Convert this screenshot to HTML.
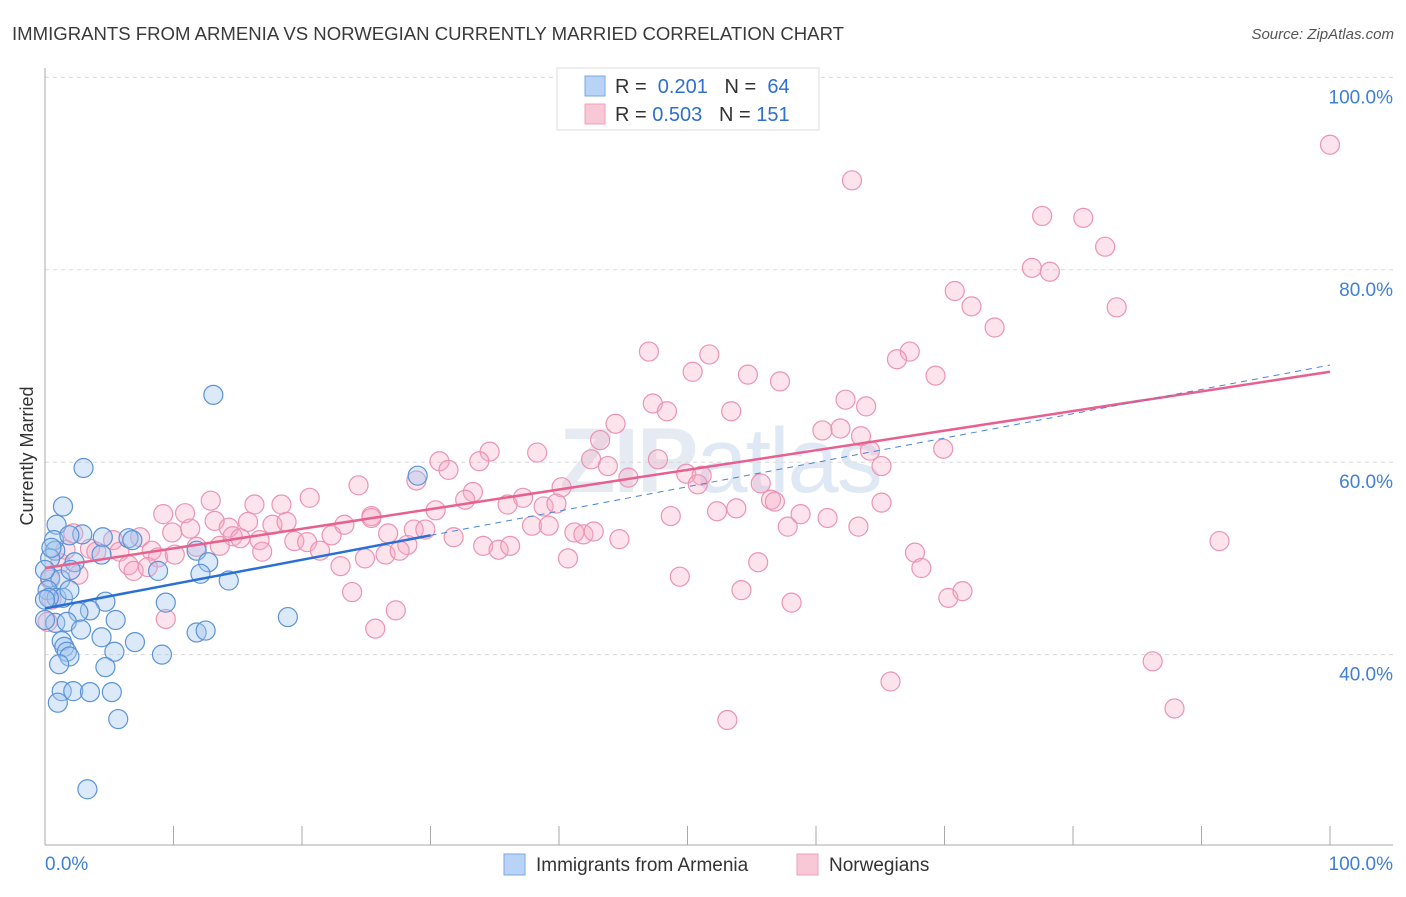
<!DOCTYPE html>
<html><head><meta charset="utf-8"><style>
body{margin:0;background:#fff;font-family:"Liberation Sans",sans-serif}
</style></head><body>
<svg width="1406" height="892" viewBox="0 0 1406 892" xmlns="http://www.w3.org/2000/svg" id="chart">
<text x="12" y="40" font-size="18" fill="#3a3a3a" font-family="Liberation Sans, sans-serif" textLength="832" lengthAdjust="spacingAndGlyphs">IMMIGRANTS FROM ARMENIA VS NORWEGIAN CURRENTLY MARRIED CORRELATION CHART</text>
<text x="1394" y="39" font-size="15" fill="#555" font-style="italic" text-anchor="end">Source: ZipAtlas.com</text>
<text x="720" y="492" font-size="92" fill="#e6eaf2" text-anchor="middle" font-weight="bold" letter-spacing="-2">ZIP<tspan fill="#dfe8f5" font-weight="normal">atlas</tspan></text>
<g id="grid"></g>
<g id="axes"></g>
<g id="marks"></g>
<text transform="translate(33,456) rotate(-90)" font-size="18" fill="#333" text-anchor="middle">Currently Married</text>
<g>
<rect x="557" y="68" width="262" height="62" fill="#fff" stroke="#ddd"/>
<rect x="585" y="76" width="20" height="20" fill="#b8d3f5" stroke="#7aa7e3"/>
<rect x="585" y="104" width="20" height="20" fill="#f9c8d7" stroke="#eea0ba"/>
<text x="615" y="93" font-size="20" fill="#333">R = <tspan fill="#2f6fcf">&#160;0.201</tspan>&#160;&#160;&#160;N = <tspan fill="#2f6fcf">&#160;64</tspan></text>
<text x="615" y="121" font-size="20" fill="#333">R = <tspan fill="#2f6fcf">0.503</tspan>&#160;&#160;&#160;N = <tspan fill="#2f6fcf">151</tspan></text>
</g>
<g>
<rect x="504" y="854" width="21" height="21" fill="#b8d3f5" stroke="#7aa7e3"/>
<text x="536" y="871" font-size="19" fill="#333">Immigrants from Armenia</text>
<rect x="797" y="854" width="21" height="21" fill="#f9c8d7" stroke="#eea0ba"/>
<text x="829" y="871" font-size="19" fill="#333">Norwegians</text>
</g>
</svg>
<script>
const xTicks=[0,10,20,30,40,50,60,70,80,90,100];
const yTicks=[40,60,80,100];
const yTickLabels=["40.0%","60.0%","80.0%","100.0%"];
const xEndLabels=["0.0%","100.0%"];
const blueX=[13.1,3.0,1.4,0.9,2.9,0.7,1.9,4.5,6.5,6.8,11.8,0.8,0.4,2.3,4.4,8.8,12.7,12.1,14.3,0.4,1.2,2.0,0.2,0.9,1.4,0.3,1.9,4.7,9.4,3.5,2.6,5.5,18.9,0.8,1.7,2.8,11.8,12.5,4.4,1.3,7.0,1.5,1.7,1.9,1.1,5.4,9.1,4.7,1.3,2.2,3.5,5.2,1.0,5.7,3.3,29.0,0,0,0,0.5];
const blueY=[67.0,59.4,55.4,53.5,52.5,51.9,52.4,52.2,52.1,51.9,50.8,50.8,50.0,49.6,50.4,48.7,49.6,48.4,47.7,48.0,47.8,48.8,46.7,45.9,45.9,45.9,46.7,45.5,45.4,44.6,44.4,43.6,43.9,43.3,43.4,42.6,42.3,42.5,41.8,41.4,41.3,40.8,40.3,39.8,39.0,40.3,40.0,38.7,36.2,36.2,36.1,36.1,35.0,33.3,26.0,58.6,48.8,45.7,43.6,51.1];
const pinkX=[100,62.8,77.6,80.8,82.5,76.8,78.2,70.8,72.1,83.4,73.9,47.0,51.7,67.3,66.3,50.4,54.7,57.2,69.3,47.3,48.4,53.4,62.3,63.9,44.4,61.9,63.5,60.5,43.2,69.9,64.2,38.3,34.6,33.8,30.7,31.4,42.5,43.8,47.7,49.9,51.1,50.8,45.4,28.9,24.4,33.3,40.2,37.2,32.7,36.0,38.8,39.8,55.7,56.5,56.8,65.1,65.1,30.4,25.4,20.6,16.3,18.4,12.9,10.9,9.2,9.9,11.3,13.2,15.8,17.7,18.8,14.3,14.6,16.7,19.4,20.4,21.4,22.3,23.3,25.4,26.7,28.2,28.7,29.6,31.8,34.1,35.3,36.2,37.9,39.2,41.2,41.9,42.7,44.7,48.7,52.3,53.8,57.8,58.8,60.9,63.3,26.5,27.6,24.9,23.0,7.4,5.3,3.5,2.2,1.6,4.0,5.8,8.3,8.8,6.5,6.9,8.0,10.1,11.8,13.6,15.2,16.9,1.2,0.4,0.5,0.2,9.4,23.9,25.7,27.3,40.7,49.4,54.2,55.5,58.1,67.7,68.2,70.3,71.4,86.2,87.9,53.1,65.8,91.4,2.6];
const pinkY=[93.0,89.3,85.6,85.4,82.4,80.2,79.8,77.8,76.2,76.1,74.0,71.5,71.2,71.5,70.7,69.4,69.1,68.4,69.0,66.1,65.3,65.3,66.5,65.8,64.0,63.5,62.7,63.3,62.3,61.4,61.2,61.0,61.1,60.1,60.1,59.2,60.3,59.6,60.3,58.8,58.6,57.7,58.4,58.1,57.6,56.9,57.4,56.3,56.1,55.6,55.4,55.7,57.8,56.1,55.9,59.6,55.8,55.0,54.4,56.3,55.6,55.6,56.0,54.7,54.6,52.7,53.1,53.9,53.8,53.5,53.8,53.2,52.3,51.9,51.8,51.7,50.8,52.4,53.5,54.2,52.6,51.4,53.0,53.0,52.2,51.3,50.9,51.3,53.4,53.4,52.7,52.5,52.8,52.0,54.4,54.9,55.2,53.3,54.6,54.2,53.3,50.4,50.8,50.0,49.2,52.2,51.9,51.0,52.6,50.9,50.7,50.7,50.8,50.1,49.3,48.7,49.1,50.4,51.2,51.3,52.1,50.7,49.5,47.8,45.7,43.4,43.7,46.5,42.7,44.6,50.0,48.1,46.7,49.6,45.4,50.6,49.0,45.9,46.6,39.3,34.4,33.2,37.2,51.8,48.3];
const blueTrend=[44.8,70.1];
const pinkTrend=[49.0,69.4];
const blueSolidEnd=30;

const NS="http://www.w3.org/2000/svg";
const X0=45,X1=1330,YB=847,PX_PER=9.62;
function sx(v){return X0+v*(X1-X0)/100;}
function sy(v){return YB-(v-20)*PX_PER;}
function mk(tag,attrs,parent){const e=document.createElementNS(NS,tag);for(const k in attrs)e.setAttribute(k,attrs[k]);parent.appendChild(e);return e;}
const grid=document.getElementById('grid'),axes=document.getElementById('axes'),marks=document.getElementById('marks');
yTicks.forEach((t,i)=>{
 const l=mk('line',{x1:45,x2:1393,y1:sy(t),y2:sy(t),stroke:'#d8d8d8','stroke-dasharray':'4,4'},grid);
 
 
 const tx=mk('text',{x:1393,y:sy(t)+26,'font-size':19,fill:'#3f7fd6','text-anchor':'end'},axes);
 tx.textContent=yTickLabels[i];
 
 
});
const ya=mk('line',{x1:45,x2:45,y1:68,y2:845,stroke:'#aaa'},axes);


const xa=mk('line',{x1:45,x2:1393,y1:845,y2:845,stroke:'#aaa'},axes);


xTicks.forEach(t=>{
 const l=mk('line',{x1:sx(t),x2:sx(t),y1:826,y2:845,stroke:'#aaa'},axes);
 
 
});
[[0,'start',45],[100,'end',1393]].forEach((d,i)=>{
 const tx=mk('text',{x:d[2],y:870,'font-size':19,fill:'#3f7fd6','text-anchor':d[1]},axes);
 tx.textContent=xEndLabels[i];
 
 
});
pinkX.forEach((x,i)=>{
 const c=mk('circle',{cx:sx(x),cy:sy(pinkY[i]),r:9.5,fill:'rgba(245,170,196,0.33)',stroke:'#eb94b2','stroke-width':1.2},marks);
 
 
});
blueX.forEach((x,i)=>{
 const c=mk('circle',{cx:sx(x),cy:sy(blueY[i]),r:9.5,fill:'rgba(160,196,240,0.38)',stroke:'#5b93d9','stroke-width':1.2},marks);
 
 
});
function tv(tr,x){return tr[0]+(tr[1]-tr[0])*x/100;}
const pl=mk('line',{x1:sx(0),y1:sy(tv(pinkTrend,0)),x2:sx(100),y2:sy(tv(pinkTrend,100)),stroke:'#e8608f','stroke-width':2.5},marks);


const bd=mk('line',{x1:sx(blueSolidEnd),y1:sy(tv(blueTrend,blueSolidEnd)),x2:sx(100),y2:sy(tv(blueTrend,100)),stroke:'#4a84d9','stroke-width':1,'stroke-dasharray':'6,5'},marks);


const bl=mk('line',{x1:sx(0),y1:sy(tv(blueTrend,0)),x2:sx(blueSolidEnd),y2:sy(tv(blueTrend,blueSolidEnd)),stroke:'#2a6fd6','stroke-width':2.5},marks);


</script>
</body></html>
